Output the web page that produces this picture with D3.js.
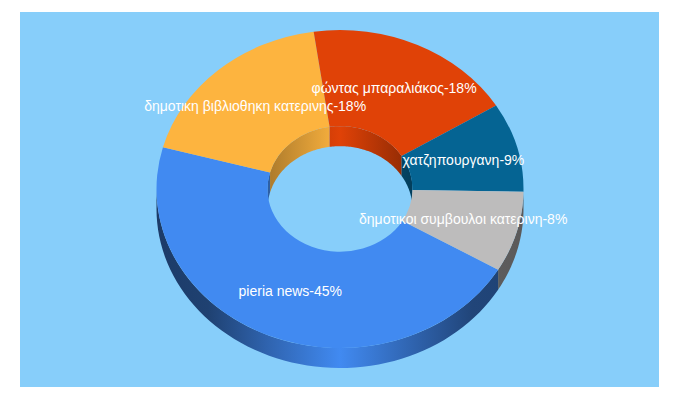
<!DOCTYPE html>
<html>
<head>
<meta charset="utf-8">
<script src="https://cdn.jsdelivr.net/npm/d3@7"></script>
<style>
  html, body { margin: 0; padding: 0; background: #fff; }
  svg { display: block; }
  text { font-family: "Liberation Sans", sans-serif; font-size: 14px; fill: #fff; text-anchor: middle; }
</style>
</head>
<body>
<svg class="canvas" width="680" height="400"></svg>
<script>
"use strict";
const categories = ["pieria news", "δημοτικη βιβλιοθηκη κατερινης", "φώντας μπαραλιάκος", "χατζηπουργανη", "δημοτικοι συμβουλοι κατερινη"];
const values = [45.8, 18.5, 18.5, 9.1, 8.2];
const percentLabels = ["45%", "18%", "18%", "9%", "8%"];
const colors = ["#418af1", "#fdb43f", "#e04207", "#056493", "#bdbcbc"];

const background = "#87cefa";
const cx = 340, cy = 189;
const rx = 183.5, ry = 159, innerRatio = 0.395, depth = 20;
const squash = ry / rx;
const startAngle = 120.5 * Math.PI / 180;
const tau = 2 * Math.PI;

const svg = d3.select(".canvas");
svg.append("rect").attr("x", 20).attr("y", 12).attr("width", 639).attr("height", 375).attr("fill", background);

const slices = d3.pie().sort(null).startAngle(startAngle).endAngle(startAngle + tau)(values);
const arc = d3.arc().innerRadius(rx * innerRatio).outerRadius(rx);

// x/y of a point on the squashed ring, angle is clockwise from the top
const px = (a, r) => cx + r * Math.sin(a);
const py = (a, r) => cy - r * squash * Math.cos(a);

// horizontal shading for a wall, brightest in the middle of the ring
const defs = svg.append("defs");
function gradient(id, color, x0, x1, shades) {
  const g = defs.append("linearGradient").attr("id", id)
    .attr("gradientUnits", "userSpaceOnUse")
    .attr("x1", x0).attr("x2", x1).attr("y1", 0).attr("y2", 0);
  shades.forEach(([offset, k]) => {
    g.append("stop").attr("offset", offset).attr("stop-color", d3.interpolateRgb("#000", color)(k));
  });
}

// band between the ellipse edge and the same edge pushed down by depth
function wall(a0, a1, r) {
  const steps = d3.range(0, 61).map(i => a0 + (a1 - a0) * i / 60);
  const top = steps.map(a => [px(a, r), py(a, r)]);
  const bottom = steps.slice().reverse().map(a => [px(a, r), py(a, r) + depth]);
  return d3.line()(top.concat(bottom)) + "Z";
}

const walls = svg.append("g");

// inner walls, the far half of the hole (270deg to 450deg)
slices.forEach((s, i) => {
  const a0 = Math.max(s.startAngle, tau * 0.75);
  const a1 = Math.min(s.endAngle, tau * 1.25);
  if (a1 <= a0) return;
  const id = "inner" + i;
  gradient(id, colors[i], cx - rx * innerRatio, cx + rx * innerRatio, [[0, 0.68], [0.5, 1], [1, 0.62]]);
  walls.append("path").attr("d", wall(a0, a1, rx * innerRatio)).attr("fill", `url(#${id})`);
});

// outer walls, the near half of the ring (90deg to 270deg)
// the last slice runs past a full turn, so it is tried one turn back too
slices.forEach((s, i) => {
  [0, tau].forEach(turn => {
    const a0 = Math.max(s.startAngle - turn, tau * 0.25);
    const a1 = Math.min(s.endAngle - turn, tau * 0.75);
    if (a1 <= a0) return;
    const id = "outer" + i + "-" + turn;
    gradient(id, colors[i], cx - rx, cx + rx, [[0, 0.43], [0.14, 0.47], [0.3, 0.72], [0.5, 1], [0.7, 0.72], [0.86, 0.5], [1, 0.48]]);
    walls.append("path").attr("d", wall(a0, a1, rx)).attr("fill", `url(#${id})`);
  });
});

// top face
svg.append("g")
  .attr("transform", `translate(${cx},${cy}) scale(1,${squash})`)
  .selectAll("path")
  .data(slices)
  .join("path")
  .attr("d", arc)
  .attr("fill", (d, i) => colors[i]);

// labels sit on the slice centroid
svg.append("g")
  .selectAll("text")
  .data(slices)
  .join("text")
  .attr("x", d => cx + arc.centroid(d)[0])
  .attr("y", d => cy + arc.centroid(d)[1] * squash)
  .attr("dy", "0.35em")
  .text((d, i) => categories[i] + "-" + percentLabels[i]);
</script>
</body>
</html>
